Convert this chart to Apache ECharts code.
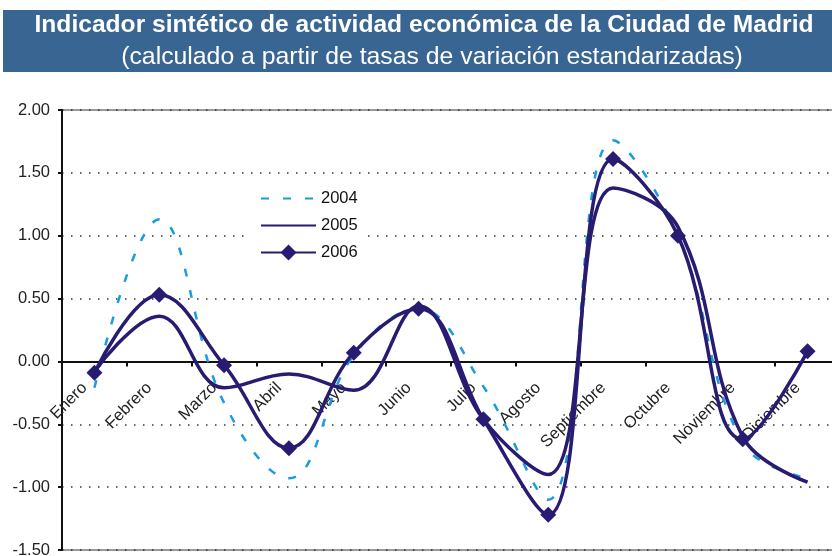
<!DOCTYPE html>
<html>
<head>
<meta charset="utf-8">
<script src="https://cdn.jsdelivr.net/npm/echarts@6/dist/echarts.min.js"></script>
<style>
html,body{margin:0;padding:0;background:#fff;}
#chart{width:832px;height:556px;}
</style>
</head>
<body>
<div id="chart"></div>
<script>
var titleLine1 = 'Indicador sintético de actividad económica de la Ciudad de Madrid';
var titleLine2 = '(calculado a partir de tasas de variación estandarizadas)';
var months = ['Enero','Febrero','Marzo','Abril','Mayo','Junio','Julio','Agosto','Septiembre','Octubre','Noviembre','Diciembre'];
var seriesNames = ['2004','2005','2006'];
var values2004 = [-0.21, 1.13, -0.33, -0.93, 0.05, 0.42, -0.20, -1.10, 1.76, 1.00, -0.65, -0.93];
var values2005 = [-0.08, 0.36, -0.21, -0.10, -0.23, 0.44, -0.46, -0.90, 1.38, 1.07, -0.60, -0.96];
var values2006 = [-0.09, 0.53, -0.03, -0.69, 0.07, 0.42, -0.46, -1.22, 1.61, 1.00, -0.62, 0.08];
var yMin = -1.5, yMax = 2.0, yStep = 0.5;

var FONT = '"Liberation Sans", Arial, sans-serif';
var NAVY = '#271c72';
var BLUE = '#1b9be0';
var HIDDEN = 'rgba(0,0,0,0)';

var W = 832, H = 556;
var gridTop = 110, gridBottom = 6;
var plotH = H - gridTop - gridBottom;
// move the category axis up to the zero line of the value axis
var zeroOffset = -((0 - yMin) / (yMax - yMin)) * plotH;

var chart = echarts.init(document.getElementById('chart'), null, {renderer: 'canvas'});
chart.setOption({
  animation: false,
  backgroundColor: '#ffffff',
  graphic: [
    {type: 'rect', shape: {x: 3, y: 10, width: 860, height: 62}, style: {fill: '#386591'}, z: 0},
    {type: 'text', x: 424, y: 25, z: 1,
     style: {text: titleLine1, fill: '#ffffff', font: 'bold 24.6px ' + FONT,
             textAlign: 'center', textVerticalAlign: 'middle', align: 'center', verticalAlign: 'middle'}},
    {type: 'text', x: 432, y: 57, z: 1,
     style: {text: titleLine2, fill: '#ffffff', font: '24.8px ' + FONT,
             textAlign: 'center', textVerticalAlign: 'middle', align: 'center', verticalAlign: 'middle'}}
  ],
  grid: {left: 62, top: gridTop, right: -8, bottom: gridBottom, outerBoundsMode: 'none', containLabel: false,
         show: true, borderColor: '#9a9a9a', borderWidth: 2, backgroundColor: 'transparent'},
  legend: {
    orient: 'vertical', left: 250, top: 186, padding: [4, 10, 4, 10],
    backgroundColor: '#ffffff', itemWidth: 55, itemHeight: 20, itemGap: 10,
    textStyle: {fontFamily: FONT, fontSize: 16.5, color: '#111'},
    data: [
      {name: seriesNames[0], itemStyle: {color: HIDDEN, borderWidth: 0}},
      {name: seriesNames[1], itemStyle: {color: HIDDEN, borderWidth: 0}},
      {name: seriesNames[2]}
    ]
  },
  xAxis: {
    type: 'category', data: months, boundaryGap: true, position: 'bottom', offset: zeroOffset,
    axisLine: {onZero: false, lineStyle: {color: '#111', width: 2}},
    axisTick: {show: true, length: 5, lineStyle: {color: '#111', width: 2}},
    axisLabel: {rotate: 45, margin: 14, padding: [0, 14, 0, 0], interval: 0,
      fontFamily: FONT, fontSize: 16.5, color: '#222'},
    splitLine: {show: false}
  },
  yAxis: {
    type: 'value', min: yMin, max: yMax, interval: yStep,
    axisLine: {show: true, onZero: false, lineStyle: {color: '#111', width: 2}},
    axisTick: {show: true, length: 4, lineStyle: {color: '#111', width: 2}},
    axisLabel: {margin: 12, fontFamily: FONT, fontSize: 16.5, color: '#222',
      formatter: function (v) { return v.toFixed(2); }},
    splitLine: {show: true, lineStyle: {color: '#333', width: 1.5, type: [1.5, 7.5]}}
  },
  series: [
    {name: seriesNames[0], type: 'line', data: values2004, smooth: 0.4, symbol: 'none',
     lineStyle: {color: BLUE, width: 2.5, type: [8, 14]}, itemStyle: {color: BLUE}, z: 2},
    {name: seriesNames[1], type: 'line', data: values2005, smooth: 0.4, symbol: 'none',
     lineStyle: {color: NAVY, width: 3.5}, itemStyle: {color: NAVY}, z: 3},
    {name: seriesNames[2], type: 'line', data: values2006, smooth: 0.4, symbol: 'diamond', symbolSize: 16,
     showSymbol: true, lineStyle: {color: NAVY, width: 3.5}, itemStyle: {color: NAVY}, z: 4}
  ]
});
</script>
</body>
</html>
